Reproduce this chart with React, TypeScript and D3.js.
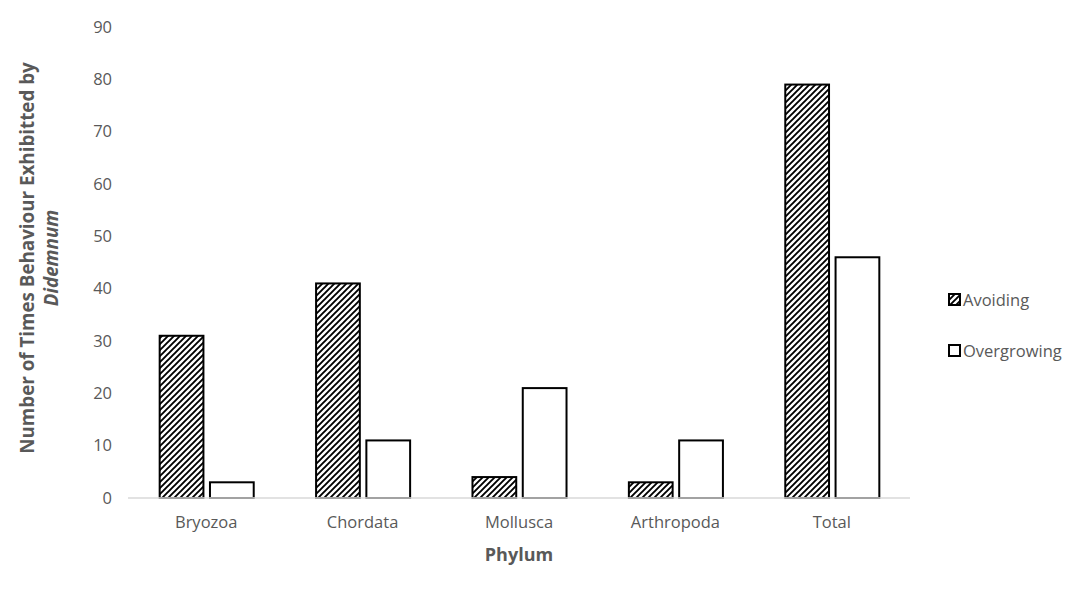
import React from "react";
import * as d3 from "d3";

const categories = ["Bryozoa", "Chordata", "Mollusca", "Arthropoda", "Total"];
const seriesNames = ["Avoiding", "Overgrowing"];
const avoiding = [31, 41, 4, 3, 79];
const overgrowing = [3, 11, 21, 11, 46];
const yTicks = [0, 10, 20, 30, 40, 50, 60, 70, 80, 90];

const W = 1090;
const H = 598;
const left = 128;
const right = 910;
const top = 27;
const bottom = 498;
const font = "'Open Sans', sans-serif";
const gray = "#595959";
const tickSize = 16.5;

export default function App() {
  const x0 = d3.scaleBand().domain(categories).range([left, right]).padding(0);
  const x1 = d3
    .scaleBand()
    .domain(seriesNames)
    .range([0, x0.bandwidth()])
    .paddingInner(0.13)
    .paddingOuter(0.62);
  const y = d3.scaleLinear().domain([0, 90]).range([bottom, top]);
  const values = [avoiding, overgrowing];
  const fills = ["url(#hatch)", "#ffffff"];

  return (
    <svg width={W} height={H} style={{ position: "absolute", left: 0, top: 0, background: "#fff" }}>
      <defs>
        <pattern id="hatch" patternUnits="userSpaceOnUse" width="6" height="6">
          <rect width="6" height="6" fill="#fff" />
          <path d="M-1,1 l2,-2 M0,6 l6,-6 M5,7 l2,-2" stroke="#000" strokeWidth="1.9" />
        </pattern>
      </defs>
      <rect width={W} height={H} fill="#fff" />
      {yTicks.map((t) => (
        <text key={t} x={112} y={y(t)} dy="0.35em" textAnchor="end" fontFamily={font} fontSize={tickSize} fill={gray}>
          {t}
        </text>
      ))}
      {categories.map((c, i) =>
        seriesNames.map((s, j) => {
          const v = values[j][i];
          return (
            <rect
              key={c + s}
              x={(x0(c) as number) + (x1(s) as number) + 0.5}
              y={y(v)}
              width={x1.bandwidth()}
              height={bottom - y(v)}
              fill={fills[j]}
              stroke="#000"
              strokeWidth={2}
            />
          );
        })
      )}
      <line x1={left} x2={right} y1={bottom} y2={bottom} stroke="#d9d9d9" strokeWidth={1.5} />
      {categories.map((c) => (
        <text key={c} x={(x0(c) as number) + x0.bandwidth() / 2} y={528} textAnchor="middle" fontFamily={font} fontSize={tickSize} fill={gray}>
          {c}
        </text>
      ))}
      <text x={519} y={561} textAnchor="middle" fontFamily={font} fontSize={18} fontWeight="bold" fill={gray}>
        Phylum
      </text>
      <g transform="translate(34,258) rotate(-90)">
        <text x={0} y={0} textAnchor="middle" fontFamily={font} fontSize={18.8} fontWeight="bold" fill={gray}>
          Number of Times Behaviour Exhibitted by
        </text>
        <text x={0} y={24} textAnchor="middle" fontFamily={font} fontSize={18.8} fontWeight="bold" fontStyle="italic" fill={gray}>
          Didemnum
        </text>
      </g>
      {seriesNames.map((s, j) => (
        <g key={s} transform={`translate(949,${294 + j * 51})`}>
          <rect x={0} y={0} width={11} height={11} fill={fills[j]} stroke="#000" strokeWidth={2} />
          <text x={14} y={6} dy="0.35em" fontFamily={font} fontSize={tickSize} fill={gray}>
            {s}
          </text>
        </g>
      ))}
    </svg>
  );
}
